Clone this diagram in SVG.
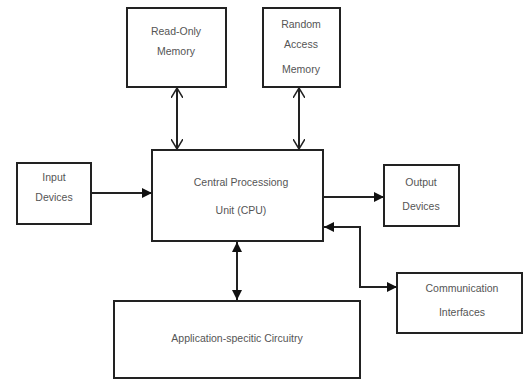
<svg xmlns="http://www.w3.org/2000/svg" width="525" height="381" viewBox="0 0 525 381">
<style>
.box{fill:#fff;stroke:#222;stroke-width:2}
.t{font-family:"Liberation Sans",Arial,sans-serif;font-size:10.5px;fill:#555;text-anchor:middle}
.c{fill:none;stroke:#222;stroke-width:2}
</style>
<defs>
<marker id="fa" viewBox="0 0 10 10" refX="10" refY="5" markerWidth="10" markerHeight="10" markerUnits="userSpaceOnUse" orient="auto-start-reverse">
<path d="M0,0 L10,5 L0,10 z" fill="#111"/>
</marker>
<marker id="oa" viewBox="0 0 10 12" refX="10" refY="6" markerWidth="10" markerHeight="12" markerUnits="userSpaceOnUse" orient="auto-start-reverse">
<path d="M0,0 L10,6 L0,12" fill="none" stroke="#222" stroke-width="1.5"/>
</marker>
</defs>
<rect width="525" height="381" fill="#fff"/>
<g id="rom"><rect class="box" x="127" y="8" width="99" height="79"/><text class="t" x="176" y="35">Read-Only</text><text class="t" x="176" y="55">Memory</text></g>
<g id="ram"><rect class="box" x="263" y="8" width="77" height="79"/><text class="t" x="301" y="28">Random</text><text class="t" x="301" y="48">Access</text><text class="t" x="301" y="73">Memory</text></g>
<g id="cpu"><rect class="box" x="152" y="150" width="171" height="91"/><text class="t" x="241" y="186">Central Processiong</text><text class="t" x="241" y="214">Unit (CPU)</text></g>
<g id="input"><rect class="box" x="17" y="163" width="74" height="61"/><text class="t" x="54" y="181">Input</text><text class="t" x="54" y="201">Devices</text></g>
<g id="output"><rect class="box" x="384" y="165" width="75" height="61"/><text class="t" x="421" y="186">Output</text><text class="t" x="421" y="210">Devices</text></g>
<g id="comm"><rect class="box" x="397" y="273" width="125" height="60"/><text class="t" x="462" y="292">Communication</text><text class="t" x="462" y="316">Interfaces</text></g>
<g id="app"><rect class="box" x="114" y="301" width="246" height="77"/><text class="t" x="237" y="342">Application-specitic Circuitry</text></g>
<g id="connectors">
<line class="c" x1="177" y1="88" x2="177" y2="149" marker-start="url(#oa)" marker-end="url(#oa)"/>
<line class="c" x1="299" y1="88" x2="299" y2="149" marker-start="url(#oa)" marker-end="url(#oa)"/>
<line class="c" x1="91" y1="193" x2="152" y2="193" marker-end="url(#fa)"/>
<line class="c" x1="323" y1="197" x2="384" y2="197" marker-end="url(#fa)"/>
<polyline class="c" points="324,227 360,227 360,287 397,287" marker-start="url(#fa)" marker-end="url(#fa)"/>
<line class="c" x1="237" y1="242" x2="237" y2="300" marker-start="url(#fa)" marker-end="url(#fa)"/>
</g>
</svg>
